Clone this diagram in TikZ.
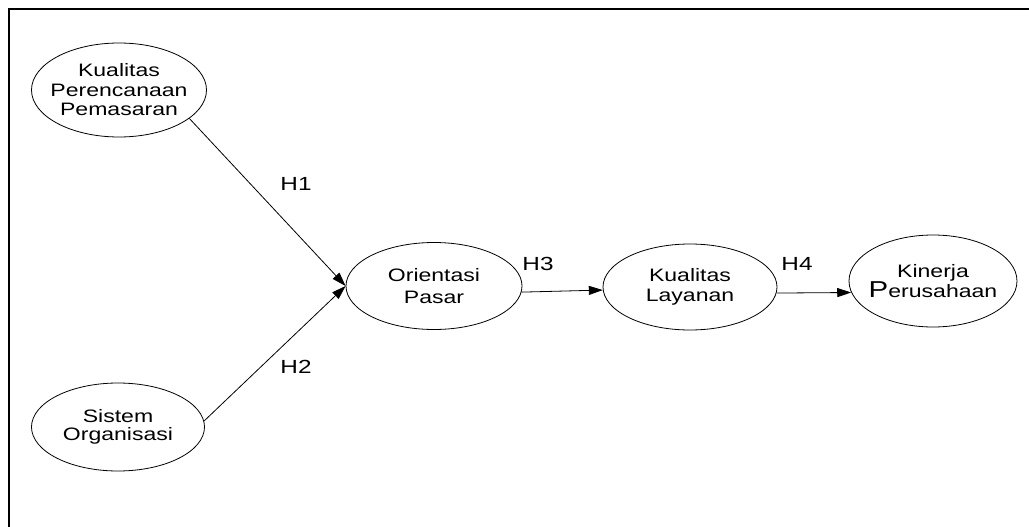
\documentclass[tikz,border=0pt]{standalone}
\usepackage{fontspec}
\setmainfont{Liberation Sans}[FakeStretch=1.28]
\usetikzlibrary{shapes,arrows.meta,positioning}

\begin{document}
\begin{tikzpicture}[x=1pt, y=-1pt,
  var/.style={draw, ellipse, line width=0.8pt, inner sep=-14pt, align=center, font=\fontsize{18}{19.5}\selectfont},
  hyp/.style={inner sep=0pt, font=\fontsize{19}{20}\selectfont},
  link/.style={-{Triangle[length=14pt,width=9pt]}, line width=0.8pt}]
  \useasboundingbox (0,0) rectangle (1029,527);
  % frame
  \draw[line width=2pt] (9,527) -- (9,9) -- (1029,9);
  % variables
  \node[var, minimum width=175, minimum height=94] (kpp) at (119,90) {Kualitas\\Perencanaan\\Pemasaran};
  \node[var, minimum width=173, minimum height=88] (so) at (118,427) {Sistem\\[-2pt]Organisasi};
  \node[var, minimum width=176, minimum height=87] (op) at (434,286) {Orientasi\\[2pt]Pasar};
  \node[var, minimum width=174, minimum height=86] (kl) at (690,287) {Kualitas\\Layanan};
  \node[var, minimum width=168, minimum height=92] (kp) at (933,281) {Kinerja\\{\fontsize{23}{19.5}\selectfont P}erusahaan};
  % hypotheses
  \node[hyp] (h1) at (296,184) {H1};
  \node[hyp] (h2) at (296,367) {H2};
  \node[hyp] (h3) at (538,264) {H3};
  \node[hyp] (h4) at (797,264) {H4};
  \draw[link] (kpp.-22) -- (op.west);
  \draw[link] (so.4) -- (op.west);
  \draw[link] (op.-4) -- (kl.182);
  \draw[link] (kl.-4) -- (kp.188);
\end{tikzpicture}
\end{document}
